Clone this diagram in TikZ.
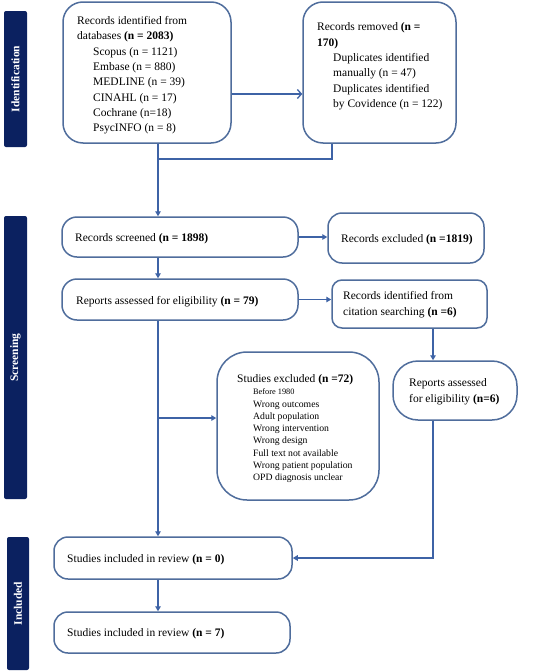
\documentclass[tikz,border=0pt]{standalone}
\usepackage{fontspec}
\setmainfont{Liberation Serif}
\usetikzlibrary{arrows.meta}
\definecolor{navy}{HTML}{0B2160}
\definecolor{boxc}{HTML}{4F6D9C}
\definecolor{arrc}{HTML}{3E63A6}
\begin{document}
\begin{tikzpicture}[x=1pt,y=-1pt,
 box/.style={draw=boxc, line width=1.5pt, inner sep=0pt, fill=white},
 bar/.style={fill=navy, draw=none, rounded corners=2pt, inner sep=0pt},
 bartext/.style={text=white, font=\bfseries\fontsize{11.5}{13}\selectfont, rotate=90, inner sep=0pt},
 tx/.style={anchor=base west, inner sep=0pt, font=\fontsize{11.5}{14}\selectfont},
 sm/.style={anchor=base west, inner sep=0pt, font=\fontsize{9.7}{12}\selectfont},
 ln/.style={draw=arrc, line width=1.3pt},
 arr/.style={ln, -{Triangle[length=5pt,width=5.5pt]}},
 arro/.style={ln, -{Straight Barb[length=4pt,width=9pt]}}]
\path[fill=white] (0,0) rectangle (550,672);
\useasboundingbox (0,0) rectangle (550,672);

% phase bars
\node[bar, minimum width=23pt, minimum height=136pt] (idb) at (15.5,79) {};
\node[bartext] (idt) at (idb.center) {Identification};
\node[bar, minimum width=23pt, minimum height=283pt] (scb) at (15.5,357.5) {};
\node[bartext] (sct) at (scb.center) {Screening};
\node[bar, minimum width=22pt, minimum height=133pt] (inb) at (18,603.5) {};
\node[bartext] (int) at (inb.center) {Included};

% boxes
\node[box, rounded corners=20pt, minimum width=168pt, minimum height=141pt] (b1) at (147,72.5) {};
\node[box, rounded corners=20pt, minimum width=153pt, minimum height=141pt] (b2) at (379.5,72.5) {};
\node[box, rounded corners=15pt, minimum width=236pt, minimum height=40pt] (scr) at (180,237) {};
\node[box, rounded corners=14pt, minimum width=156pt, minimum height=50pt] (rex) at (406,238) {};
\node[box, rounded corners=15pt, minimum width=236pt, minimum height=41pt] (rep) at (180,299.5) {};
\node[box, rounded corners=10pt, minimum width=155pt, minimum height=48pt] (cit) at (409.5,304) {};
\node[box, rounded corners=30pt, minimum width=162pt, minimum height=148pt] (sex) at (298,426) {};
\node[box, rounded corners=25pt, minimum width=124pt, minimum height=59pt] (r6) at (455,390.5) {};
\node[box, rounded corners=14pt, minimum width=238pt, minimum height=42pt] (inc0) at (173,558) {};
\node[box, rounded corners=14pt, minimum width=236pt, minimum height=41pt] (inc7) at (172,632.5) {};

% texts
\node[tx] (t1a) at (77,24.2) {Records identified from};
\node[tx] (t1b) at (77,39.5) {databases \textbf{(n = 2083)}};
\node[tx] (t1c) at (93,55.2) {Scopus (n = 1121)};
\node[tx] (t1d) at (93,70.2) {Embase (n = 880)};
\node[tx] (t1e) at (93,85.8) {MEDLINE (n = 39)};
\node[tx] (t1f) at (93,101.8) {CINAHL (n = 17)};
\node[tx] (t1g) at (93,116.8) {Cochrane (n=18)};
\node[tx] (t1h) at (93,131.8) {PsycINFO (n = 8)};

\node[tx] (t2a) at (317,30.5) {Records removed \textbf{(n =}};
\node[tx] (t2b) at (317,46.5) {\textbf{170)}};
\node[tx] (t2c) at (333,61.2) {Duplicates identified};
\node[tx] (t2d) at (333,76.2) {manually (n = 47)};
\node[tx] (t2e) at (333,92.5) {Duplicates identified};
\node[tx] (t2f) at (333,107.8) {by Covidence (n = 122)};

\node[tx] (t3) at (75,241.5) {Records screened \textbf{(n = 1898)}};
\node[tx] (t4) at (341,242.5) {Records excluded \textbf{(n =1819)}};
\node[tx] (t5) at (76,304.5) {Reports assessed for eligibility \textbf{(n = 79)}};
\node[tx] (t6a) at (343,299.5) {Records identified from};
\node[tx] (t6b) at (343,315.5) {citation searching \textbf{(n =6)}};

\node[tx] (t7) at (237,382.5) {Studies excluded \textbf{(n =72)}};
\node[sm, font=\fontsize{8.3}{10}\selectfont] (t7a) at (253,394.7) {Before 1980};
\node[sm] (t7b) at (253,407) {Wrong outcomes};
\node[sm] (t7c) at (253,419) {Adult population};
\node[sm] (t7d) at (253,431.3) {Wrong intervention};
\node[sm] (t7e) at (253,443.7) {Wrong design};
\node[sm] (t7f) at (253,456.3) {Full text not available};
\node[sm] (t7g) at (253,468.7) {Wrong patient population};
\node[sm] (t7h) at (253,480.7) {OPD diagnosis unclear};

\node[tx] (t8a) at (409,386.5) {Reports assessed};
\node[tx] (t8b) at (409,402.5) {for eligibility \textbf{(n=6)}};

\node[tx] (t9) at (67,562.5) {Studies included in review \textbf{(n = 0)}};
\node[tx] (t10) at (67,636.5) {Studies included in review \textbf{(n = 7)}};

% connectors
\coordinate (a1) at (0,94);
\coordinate (mx) at (158,159);
\coordinate (rx) at (332,159);
\coordinate (ey) at (0,418);
\coordinate (cx) at (433,0);
\draw[arro] (b1.east |- a1) -- (b2.west |- a1);
\draw[ln] (rx |- b2.south) -- (rx) -- (mx);
\draw[arr] (mx |- b1.south) -- (mx |- scr.north);
\draw[arr] (mx |- scr.south) -- (mx |- rep.north);
\draw[arr] (mx |- rep.south) -- (mx |- inc0.north);
\draw[arr] (mx |- ey) -- (sex.west |- ey);
\draw[arr] (mx |- inc0.south) -- (mx |- inc7.north);
\draw[arr] (scr.east) -- (scr.east -| rex.west);
\draw[arr] (rep.east) -- (rep.east -| cit.west);
\draw[arr] (cx |- cit.south) -- (cx |- r6.north);
\draw[arr] (cx |- r6.south) |- (inc0.east);
\end{tikzpicture}
\end{document}
